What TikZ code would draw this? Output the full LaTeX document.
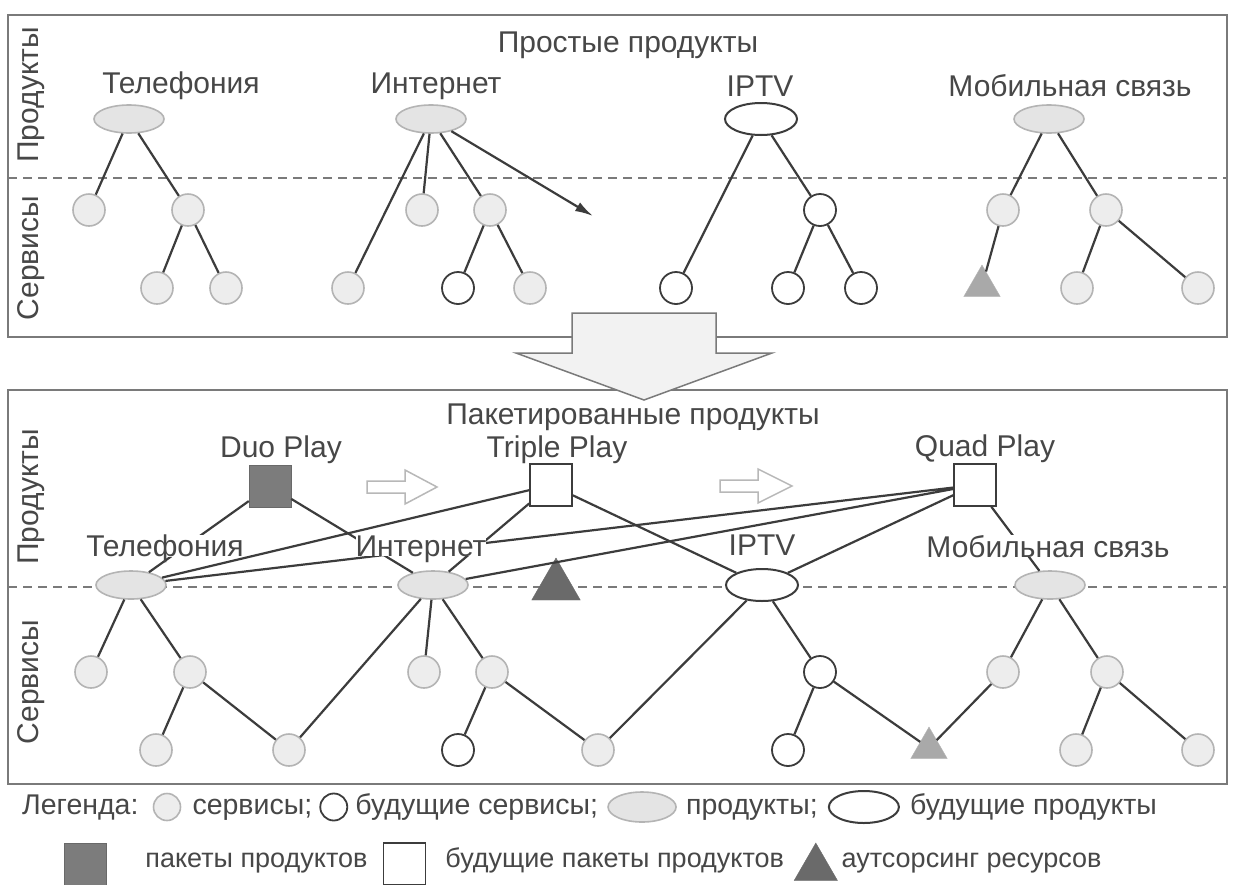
\documentclass[tikz,border=0pt]{standalone}
\usepackage{fontspec}
\setmainfont{Liberation Sans}
\usetikzlibrary{positioning, shapes.geometric, arrows.meta}

\definecolor{ink}{HTML}{474747}
\definecolor{linkgray}{HTML}{3C3C3C}
\definecolor{framegray}{HTML}{7A7A7A}
\definecolor{svcfill}{HTML}{EDEDED}
\definecolor{svcline}{HTML}{B4B4B4}
\definecolor{prodfill}{HTML}{E4E4E4}
\definecolor{pkgfill}{HTML}{7C7C7C}
\definecolor{outfill}{HTML}{6A6A6A}
\definecolor{trifill}{HTML}{A9A9A9}

\begin{document}
\begin{tikzpicture}[x=1pt, y=-1pt,
	every node/.style={text=ink, font=\fontsize{30}{33}\selectfont},
	link/.style={draw=linkgray, line width=2.2pt},
	svc/.style={circle, draw=svcline, fill=svcfill, line width=1.6pt, minimum size=32pt, inner sep=0pt},
	newsvc/.style={circle, draw=linkgray, fill=white, line width=1.8pt, minimum size=32pt, inner sep=0pt},
	prod/.style={ellipse, draw=svcline, fill=prodfill, line width=1.6pt, minimum width=70pt, minimum height=28pt, inner sep=0pt},
	newprod/.style={ellipse, draw=linkgray, fill=white, line width=2pt, minimum width=72pt, minimum height=32pt, inner sep=0pt},
	pkg/.style={rectangle, draw=pkgfill!85!black, fill=pkgfill, minimum size=42pt, inner sep=0pt},
	newpkg/.style={rectangle, draw=linkgray, fill=white, line width=1.6pt, minimum size=42pt, inner sep=0pt},
	outsrc/.style={regular polygon, regular polygon sides=3, fill=outfill, draw=outfill, inner sep=0pt, minimum size=56pt},
	svcout/.style={regular polygon, regular polygon sides=3, fill=trifill, draw=svcline, inner sep=0pt, minimum size=42pt},
	lbl/.style={fill=white, inner sep=0pt, text depth=0pt},
	legtxt/.style={inner sep=0pt, font=\fontsize{28.5}{31}\selectfont, text height=20pt, text depth=6pt},
	legsmall/.style={legtxt, font=\fontsize{27}{30}\selectfont, text height=19pt, text depth=5pt},
	panel/.style={draw=framegray, line width=1.6pt},
	divider/.style={draw=framegray, line width=1.5pt, dash pattern=on 9pt off 6pt},
	hollow/.style={draw=black!28, fill=white, line width=1.5pt}]

	\path [use as bounding box, fill=white] (0,0) rectangle (1234,884);

	\draw [panel] (8,15) rectangle (1227,337);
	\draw [divider] (8,178) -- (1227,178);
	\node [rotate=90] at (31,95) {Продукты};
	\node [rotate=90] at (31,258) {Сервисы};
	\node at (628,45) {Простые продукты};
	\node at (181,86) {Телефония};
	\node at (436,86) {Интернет};
	\node at (760,86) {IPTV};
	\node at (1070,86) {Мобильная связь};

	\node [prod] (tel) at (129,119) {};
	\node [prod] (inet) at (431,119) {};
	\node [newprod] (iptv) at (761,119) {};
	\node [prod] (mob) at (1049,119) {};

	\node [svc] (tel1) at (89,210) {};
	\node [svc] (tel2) at (188,210) {};
	\node [svc] (tel3) at (157,288) {};
	\node [svc] (tel4) at (226,288) {};
	\node [svc] (inet1) at (348,288) {};
	\node [svc] (inet2) at (422,210) {};
	\node [svc] (inet3) at (490,210) {};
	\node [newsvc] (inet4) at (458,288) {};
	\node [svc] (inet5) at (530,288) {};
	\node [newsvc] (iptv1) at (676,288) {};
	\node [newsvc] (iptv2) at (820,210) {};
	\node [newsvc] (iptv3) at (788,288) {};
	\node [newsvc] (iptv4) at (861,288) {};
	\node [svc] (mob1) at (1003,210) {};
	\node [svc] (mob2) at (1106,210) {};
	\node [svcout] (mob3) at (982,286) {};
	\node [svc] (mob4) at (1077,288) {};
	\node [svc] (mob5) at (1198,288) {};
	\coordinate (inetnext) at (593,216);

	\draw [link] (tel) -- (tel1) (tel) -- (tel2) (tel2) -- (tel3) (tel2) -- (tel4);
	\draw [link] (inet) -- (inet1) (inet) -- (inet2) (inet) -- (inet3) (inet3) -- (inet4) (inet3) -- (inet5);
	\draw [link, -{Latex[length=18pt, width=10pt]}] (inet) -- (inetnext);
	\draw [link] (iptv) -- (iptv1) (iptv) -- (iptv2) (iptv2) -- (iptv3) (iptv2) -- (iptv4);
	\draw [link] (mob) -- (mob1) (mob) -- (mob2) (mob1) -- (mob3) (mob2) -- (mob4) (mob2) -- (mob5);

	\draw [panel] (8,390) rectangle (1227,784);
	\draw [divider] (8,587) -- (1227,587);
	\node [rotate=90] at (31,497) {Продукты};
	\node [rotate=90] at (31,682) {Сервисы};
	\node [inner sep=0pt] at (633,417) {Пакетированные продукты};

	\draw [draw=framegray, fill=black!5, line width=1.5pt] (572,313) -- (716,313) -- (716,353) -- (772,353) -- (644,400) -- (516,353) -- (572,353) -- cycle;

	\node [inner sep=0pt] at (281,450) {Duo Play};
	\node [inner sep=0pt] at (557,450) {Triple Play};
	\node [inner sep=0pt] at (985,449) {Quad Play};
	\node [pkg] (duo) at (270,486) {};
	\node [newpkg] (triple) at (551,485) {};
	\node [newpkg] (quad) at (975,485) {};
	\draw [hollow] (367,481) -- (405,481) -- (405,470) -- (437,487) -- (405,504) -- (405,493) -- (367,493) -- cycle;
	\draw [hollow] (720,480) -- (758,480) -- (758,469) -- (792,486) -- (758,503) -- (758,492) -- (720,492) -- cycle;

	\node [prod] (btel) at (131,585) {};
	\node [prod] (binet) at (433,585) {};
	\node [newprod] (biptv) at (762,585) {};
	\node [prod] (bmob) at (1050,585) {};
	\node [outsrc] (res) at (556,586) {};

	\node [svc] (btel1) at (91,672) {};
	\node [svc] (btel2) at (190,672) {};
	\node [svc] (btel3) at (156,750) {};
	\node [svc] (btel4) at (289,750) {};
	\node [svc] (binet2) at (424,672) {};
	\node [svc] (binet3) at (492,672) {};
	\node [newsvc] (binet4) at (458,750) {};
	\node [svc] (binet5) at (598,750) {};
	\node [newsvc] (biptv2) at (820,672) {};
	\node [newsvc] (biptv3) at (788,750) {};
	\node [svcout] (bshared) at (929,748) {};
	\node [svc] (bmob1) at (1003,672) {};
	\node [svc] (bmob2) at (1107,672) {};
	\node [svc] (bmob4) at (1076,750) {};
	\node [svc] (bmob5) at (1198,750) {};

	\draw [link] (btel) -- (btel1) (btel) -- (btel2) (btel2) -- (btel3) (btel2) -- (btel4);
	\draw [link] (binet) -- (btel4) (binet) -- (binet2) (binet) -- (binet3) (binet3) -- (binet4) (binet3) -- (binet5);
	\draw [link] (biptv) -- (binet5) (biptv) -- (biptv2) (biptv2) -- (biptv3) (biptv2) -- (bshared);
	\draw [link] (bmob) -- (bmob1) (bmob) -- (bmob2) (bmob1) -- (bshared) (bmob2) -- (bmob4) (bmob2) -- (bmob5);

	\draw [link] (duo) -- (btel) (duo) -- (binet);
	\draw [link] (triple) -- (btel) (triple) -- (binet) (triple) -- (biptv);
	\draw [link] (quad) -- (btel) (quad) -- (binet) (quad) -- (biptv) (quad) -- (bmob);

	\node [lbl] at (165,546) {Телефония};
	\node [lbl] at (421,546) {Интернет};
	\node [lbl] at (762,545) {IPTV};
	\node [lbl] at (1048,546) {Мобильная связь};

	\node [legtxt, anchor=west] (legend) at (22,807) {Легенда:};
	\node [svc, minimum size=27pt, right=14pt of legend] (lsvc) {};
	\node [legtxt, right=11pt of lsvc] (lsvctxt) {сервисы;};
	\node [newsvc, minimum size=27pt, right=7pt of lsvctxt] (lnew) {};
	\node [legtxt, right=7pt of lnew] (lnewtxt) {будущие сервисы;};
	\node [prod, minimum width=68pt, minimum height=30pt, right=9pt of lnewtxt] (lprod) {};
	\node [legtxt, right=9pt of lprod] (lprodtxt) {продукты;};
	\node [newprod, minimum width=70pt, right=10pt of lprodtxt] (lnewprod) {};
	\node [legtxt, right=10pt of lnewprod] (lnewprodtxt) {будущие продукты};

	\node [pkg] (lpkg) at (85,864) {};
	\node [legsmall, right=39pt of lpkg, yshift=4pt] (lpkgtxt) {пакеты продуктов};
	\node [newpkg, right=15pt of lpkgtxt, yshift=-4pt] (lnewpkg) {};
	\node [legsmall, right=19pt of lnewpkg, yshift=4pt] (lnewpkgtxt) {будущие пакеты продуктов};
	\node [outsrc, minimum size=50pt, right=17pt of lnewpkgtxt, yshift=-8pt] (lout) {};
	\node [legsmall, right=11pt of lout, yshift=8pt] (louttxt) {аутсорсинг ресурсов};
\end{tikzpicture}
\end{document}
